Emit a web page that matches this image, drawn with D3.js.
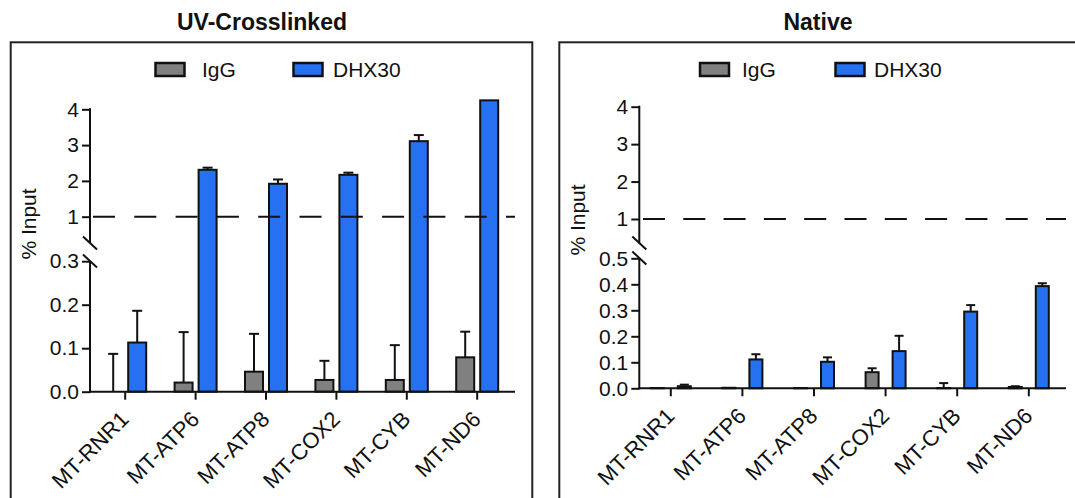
<!DOCTYPE html>
<html><head><meta charset="utf-8">
<script src="https://cdn.jsdelivr.net/npm/d3@7"></script>
<style>
body{margin:0;background:#fff}
svg{display:block}
text{font-family:"Liberation Sans",Arial,sans-serif;fill:#111}
</style></head><body>
<svg id="chart" width="1075" height="498"></svg>
<script>
// ---------- data ----------
const genes = ["MT-RNR1","MT-ATP6","MT-ATP8","MT-COX2","MT-CYB","MT-ND6"];
const seriesNames = ["IgG","DHX30"];
const panelTitles = ["UV-Crosslinked","Native"];
const yAxisTitle = "% Input";

// UV-Crosslinked
const uvIgG     = [0.000, 0.021, 0.046, 0.027, 0.027, 0.079];
const uvIgGErr  = [0.087, 0.116, 0.087, 0.044, 0.080, 0.059];
const uvDHX30   = [0.113, 2.31, 1.92, 2.17, 3.11, 4.25];
const uvDHX30Err= [0.073, 0.06, 0.12, 0.06, 0.17, 0.00];
const uvUpperTicks = [1,2,3,4];
const uvLowerTicks = [0,0.1,0.2,0.3];

// Native
const nIgG      = [0.001, 0.002, 0.001, 0.062, 0.001, 0.005];
const nIgGErr   = [0.000, 0.000, 0.000, 0.015, 0.019, 0.003];
const nDHX30    = [0.008, 0.111, 0.102, 0.143, 0.295, 0.393];
const nDHX30Err = [0.006, 0.020, 0.017, 0.059, 0.025, 0.011];
const nUpperTicks = [1,2,3,4];
const nLowerTicks = [0,0.1,0.2,0.3,0.4,0.5];

const threshold = 1;

// ---------- drawing ----------
const svg = d3.select("#chart");
const colors = ["#808080", "#2671f2"];
const ink = "#111";

function drawPanel(cfg){
  const g = svg.append("g");
  g.append("rect").attr("x", cfg.box[0]).attr("y", cfg.box[1])
    .attr("width", cfg.box[2]-cfg.box[0]).attr("height", 600)
    .attr("fill","none").attr("stroke","#222").attr("stroke-width",2);
  g.append("text").attr("x", cfg.titleX).attr("y", 30).attr("text-anchor","middle")
    .style("font-size","23px").style("font-weight","bold").text(cfg.title);

  seriesNames.forEach((s,i)=>{
    g.append("rect").attr("x", cfg.legSw[i]).attr("y", 63).attr("width", 29).attr("height", 13)
      .attr("fill", colors[i]).attr("stroke", ink).attr("stroke-width", 2.5);
    g.append("text").attr("x", cfg.legTx[i]).attr("y", 76.5).style("font-size","21px").text(s);
  });

  const x = d3.scaleBand().domain(genes).range(cfg.xRange);
  const yUp = d3.scaleLinear().domain([1,4]).range([cfg.y1, cfg.y4]);
  const yLo = d3.scaleLinear().domain([0, cfg.loMax]).range([cfg.y0, cfg.yLoMax]);
  const yv = v => v <= cfg.loMax + 1e-9 ? yLo(v) : yUp(v);

  const series = [
    {vals: cfg.igg, errs: cfg.iggErr, off: cfg.barOff[0]},
    {vals: cfg.dhx, errs: cfg.dhxErr, off: cfg.barOff[1]}
  ];
  const bw = cfg.barW;
  series.forEach((s,si)=>{
    const c = x.bandwidth()/2;
    const eg = g.append("g");
    genes.forEach((gname,i)=>{
      if (!s.errs[i]) return;
      const cx = x(gname) + c + s.off;
      const yt = yv(s.vals[i]), ye = yv(s.vals[i] + s.errs[i]);
      eg.append("line").attr("x1",cx).attr("x2",cx).attr("y1",yt).attr("y2",ye)
        .attr("stroke",ink).attr("stroke-width",2);
      eg.append("line").attr("x1",cx-cfg.capW/2).attr("x2",cx+cfg.capW/2).attr("y1",ye).attr("y2",ye)
        .attr("stroke",ink).attr("stroke-width",2);
    });
    g.append("g").selectAll("rect").data(genes).join("rect")
      .attr("x", (d)=> x(d) + c + s.off - bw/2)
      .attr("width", bw)
      .attr("y", (d,i)=> yv(s.vals[i]))
      .attr("height", (d,i)=> Math.max(0, cfg.y0 - yv(s.vals[i])))
      .attr("fill", colors[si]).attr("stroke", ink).attr("stroke-width", 2);
  });

  const ax = cfg.axisX;
  const upAxis = d3.axisLeft(yUp).tickValues(cfg.upTicks).tickSize(8).tickPadding(3).tickFormat(d3.format("d"));
  const loAxis = d3.axisLeft(yLo).tickValues(cfg.loTicks).tickSize(8).tickPadding(3).tickFormat(d3.format(".1f"));
  [upAxis, loAxis].forEach(a=>{
    const ag = g.append("g").attr("transform",`translate(${ax},0)`).call(a);
    ag.select(".domain").remove();
    ag.selectAll(".tick line").attr("stroke",ink).attr("stroke-width",2);
    ag.selectAll(".tick text").attr("fill",ink).style("font-size","21px").style("font-family",'"Liberation Sans",Arial,sans-serif');
  });
  g.append("line").attr("x1",ax).attr("x2",ax).attr("y1",yUp(4)-1).attr("y2",cfg.breakUp)
    .attr("stroke",ink).attr("stroke-width",2);
  g.append("line").attr("x1",ax).attr("x2",ax).attr("y1",cfg.breakLo).attr("y2",cfg.y0+1)
    .attr("stroke",ink).attr("stroke-width",2);
  [cfg.breakUp, cfg.breakLo].forEach(by=>{
    g.append("line").attr("x1",ax-7).attr("x2",ax+7).attr("y1",by-6.5).attr("y2",by+6.5)
      .attr("stroke",ink).attr("stroke-width",2);
  });

  const xg = g.append("g").attr("transform",`translate(0,${cfg.y0})`)
    .call(d3.axisBottom(x).tickSize(8).tickSizeOuter(0).tickFormat(""));
  xg.select(".domain").remove();
  xg.selectAll(".tick line").attr("stroke",ink).attr("stroke-width",2);
  g.append("line").attr("x1",ax-1).attr("x2",cfg.xEnd).attr("y1",cfg.y0).attr("y2",cfg.y0)
    .attr("stroke",ink).attr("stroke-width",2);
  g.append("g").selectAll("text").data(genes).join("text")
    .attr("transform", d=>`translate(${x(d)+x.bandwidth()/2+5},${cfg.y0+29}) rotate(-45)`)
    .attr("text-anchor","end").style("font-size","22px").text(d=>d);

  g.append("text").attr("transform",`translate(${cfg.yTitleX},${cfg.yTitleY}) rotate(-90)`)
    .attr("text-anchor","middle").style("font-size","21px").text(yAxisTitle);

  g.append("line").attr("x1",cfg.dashStart).attr("x2",cfg.xEnd).attr("y1",yUp(threshold)).attr("y2",yUp(threshold))
    .attr("stroke",ink).attr("stroke-width",2).attr("stroke-dasharray",cfg.dash);
}

drawPanel({
  title: panelTitles[0], titleX: 262, box:[10.7,42.3,532.3],
  legSw:[155.5,293.5], legTx:[202,333],
  xRange:[90,512.4], xEnd:515, axisX:90,
  y0:391.7, yLoMax:261.2, loMax:0.3, y1:216.7, y4:109.3,
  breakUp:243, breakLo:261,
  upTicks:uvUpperTicks, loTicks:uvLowerTicks,
  igg:uvIgG, iggErr:uvIgGErr, dhx:uvDHX30, dhxErr:uvDHX30Err,
  barOff:[-12,12], barW:18, capW:10,
  yTitleX:36, yTitleY:224, dashStart:93, dash:"22,19.3"
});

drawPanel({
  title: panelTitles[1], titleX: 818, box:[559.3,42.3,1085],
  legSw:[700,835.5], legTx:[742,874],
  xRange:[635,1064.6], xEnd:1066, axisX:639.3,
  y0:388.3, yLoMax:258.3, loMax:0.5, y1:219, y4:106.7,
  breakUp:243, breakLo:258,
  upTicks:nUpperTicks, loTicks:nLowerTicks,
  igg:nIgG, iggErr:nIgGErr, dhx:nDHX30, dhxErr:nDHX30Err,
  barOff:[-13.5,13.5], barW:13, capW:9,
  yTitleX:585, yTitleY:220, dashStart:643, dash:"22,18.3"
});
</script>
</body></html>
